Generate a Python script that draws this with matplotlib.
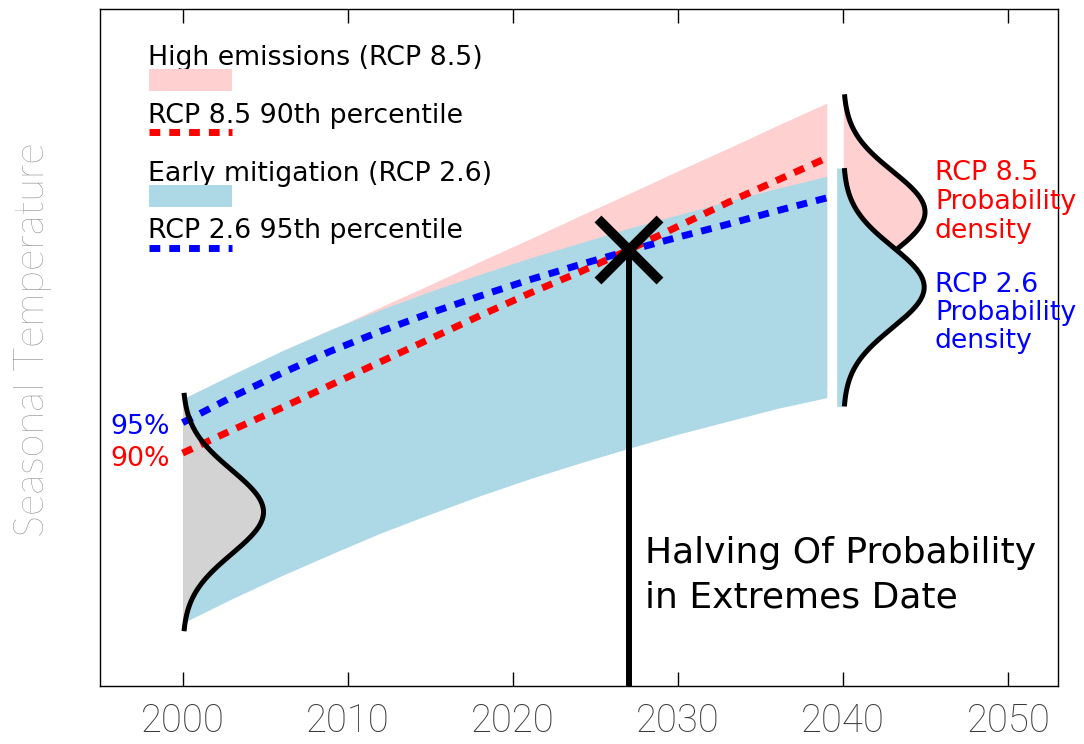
import numpy as np
import matplotlib
matplotlib.use("Agg")
import matplotlib.pyplot as plt
from matplotlib.patches import Rectangle

# ---- data (temperature in arbitrary units) ----
years = [2000, 2003, 2006, 2009, 2012, 2015, 2018, 2021, 2024, 2027, 2030, 2033, 2036, 2039]

rcp85_upper = [4.24, 4.59, 4.93, 5.26, 5.60, 5.93, 6.27, 6.60, 6.94, 7.27, 7.61, 7.94, 8.28, 8.61]
rcp85_lower = [1.08, 1.44, 1.78, 2.10, 2.41, 2.69, 2.96, 3.21, 3.44, 3.66, 3.87, 4.06, 4.25, 4.41]

rcp26_upper = [4.24, 4.60, 4.95, 5.27, 5.56, 5.83, 6.08, 6.32, 6.54, 6.76, 6.96, 7.16, 7.35, 7.53]
rcp26_lower = [0.93, 1.29, 1.63, 1.95, 2.26, 2.54, 2.81, 3.06, 3.29, 3.51, 3.72, 3.91, 4.10, 4.26]

rcp85_p90 = [3.44, 3.78, 4.11, 4.45, 4.79, 5.13, 5.47, 5.80, 6.11, 6.44, 6.79, 7.14, 7.47, 7.80]
rcp26_p95 = [3.89, 4.27, 4.62, 4.95, 5.24, 5.51, 5.76, 6.00, 6.22, 6.43, 6.63, 6.82, 7.02, 7.21]

# present-day distribution (drawn at 2000)
pdf_now = dict(year=2000, center=2.57, sigma=0.62, height=4.9, half_range=1.76)
# future distributions (drawn at 2040)
pdf_85 = dict(year=2040, center=7.00, sigma=0.60, height=4.95, half_range=1.74)
pdf_26 = dict(year=2040, center=5.89, sigma=0.60, height=4.9, half_range=1.76)

halving_year = 2027
halving_temp = 6.44

xticks = [2000, 2010, 2020, 2030, 2040, 2050]

PINK = "#ffd0d0"
LBLUE = "#add8e6"
GREY = "#d3d3d3"


def pdf_curve(p, n=300):
    y = np.linspace(p["center"] - p["half_range"], p["center"] + p["half_range"], n)
    w = p["height"] * np.exp(-0.5 * ((y - p["center"]) / p["sigma"]) ** 2)
    return y, p["year"] + w


fig = plt.figure(figsize=(10.84, 7.44), dpi=100)
ax = fig.add_axes([100 / 1084, 1 - 686 / 744, 958 / 1084, 677 / 744])
ax.set_xlim(1995, 2053)
ax.set_ylim(0, 10)

# projection ranges
ax.fill_between(years, rcp85_lower, rcp85_upper, color=PINK, lw=0, zorder=1)
ax.fill_between(years, rcp26_lower, rcp26_upper, color=LBLUE, lw=0, zorder=2)

# present-day distribution
y0, x0 = pdf_curve(pdf_now)
ax.fill_betweenx(y0, pdf_now["year"], x0, color=GREY, lw=0, zorder=3)
ax.plot(x0, y0, color="black", lw=3.6, zorder=6, solid_capstyle="butt")

# percentile lines
dash = (1.55, 1.3)
ax.plot(years, rcp85_p90, color="red", lw=5, dashes=dash, zorder=4)
ax.plot(years, rcp26_p95, color="blue", lw=5, dashes=dash, zorder=4)

# future distributions
y85, x85 = pdf_curve(pdf_85)
ax.fill_betweenx(y85, pdf_85["year"], x85, color=PINK, lw=0, zorder=3)
ax.plot(x85, y85, color="black", lw=3.6, zorder=4, solid_capstyle="butt")
y26, x26 = pdf_curve(pdf_26)
ax.fill_betweenx(y26, pdf_26["year"] - 0.4, x26, color=LBLUE, lw=0, zorder=5)
ax.plot(x26, y26, color="black", lw=3.6, zorder=6, solid_capstyle="butt")

# halving date marker
ax.plot([halving_year, halving_year], [0, halving_temp], color="black", lw=4.3,
        zorder=7, solid_capstyle="butt")
ax.plot([halving_year], [halving_temp], marker="x", ms=44, mew=7, color="black",
        zorder=8)

# axes styling
ax.set_yticks([])
ax.set_xticks(xticks)
ax.set_xticklabels([str(t) for t in xticks])
ax.tick_params(axis="x", direction="in", top=True, length=10, width=1,
               color="black", pad=12, labelsize=27.5, labelcolor="#3a3a3a")
for lab in ax.get_xticklabels():
    lab.set_fontweight("light")
    lab.set_family("Roboto")
for s in ax.spines.values():
    s.set_linewidth(1.0)

fig.text(33 / 1084, 1 - 340 / 744, "Seasonal Temperature", rotation=90,
         ha="center", va="center", fontsize=30, color="#6e6e6e",
         family="Lato", fontweight="light")

# legend block
T = ax.transAxes
fs = 19.3
ax.text(0.0501, 0.9173, "High emissions (RCP 8.5)", transform=T, fontsize=fs,
        va="baseline", zorder=9)
ax.add_patch(Rectangle((0.0511, 0.8789), 0.0867, 0.0325, transform=T,
                       color=PINK, lw=0, zorder=9))
ax.text(0.0501, 0.8316, "RCP 8.5 90th percentile", transform=T, fontsize=fs,
        va="baseline", zorder=9)
ax.plot([0.0511, 0.1378], [0.8183, 0.8183], transform=T, color="red", lw=5,
        dashes=dash, zorder=9)
ax.text(0.0501, 0.7459, "Early mitigation (RCP 2.6)", transform=T, fontsize=fs,
        va="baseline", zorder=9)
ax.add_patch(Rectangle((0.0511, 0.7075), 0.0867, 0.0325, transform=T,
                       color=LBLUE, lw=0, zorder=9))
ax.text(0.0501, 0.6617, "RCP 2.6 95th percentile", transform=T, fontsize=fs,
        va="baseline", zorder=9)
ax.plot([0.0511, 0.1378], [0.6470, 0.6470], transform=T, color="blue", lw=5,
        dashes=dash, zorder=9)

# distribution labels
for i, line in enumerate(["RCP 8.5", "Probability", "density"]):
    ax.text(0.8716, (686 - 180 - 29 * i) / 677, line, transform=T, fontsize=fs,
            color="red", va="baseline", zorder=9)
for i, line in enumerate(["RCP 2.6", "Probability", "density"]):
    ax.text(0.8716, (686 - 292 - 28 * i) / 677, line, transform=T, fontsize=fs,
            color="blue", va="baseline", zorder=9)

ax.text(0.0731, (686 - 434) / 677, "95%", transform=T, fontsize=fs, color="blue",
        ha="right", va="baseline", zorder=9)
ax.text(0.0731, (686 - 466) / 677, "90%", transform=T, fontsize=fs, color="red",
        ha="right", va="baseline", zorder=9)

ax.text(0.5689, (686 - 563) / 677, "Halving Of Probability", transform=T,
        fontsize=26, va="baseline", zorder=9)
ax.text(0.5689, (686 - 608) / 677, "in Extremes Date", transform=T,
        fontsize=26, va="baseline", zorder=9)

fig.savefig("out.png", dpi=100)
